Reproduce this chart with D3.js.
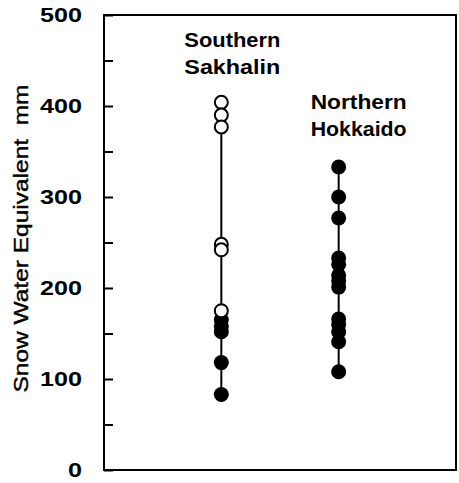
<!DOCTYPE html>
<html>
<head>
<meta charset="utf-8">
<script src="https://cdn.jsdelivr.net/npm/d3@7"></script>
<style>
  body { margin: 0; background: #fff; }
  text { font-family: "Liberation Sans", Arial, sans-serif; }
</style>
</head>
<body>
<div id="chart"></div>
<script>
// sites along the x axis
const sites = ["Southern Sakhalin", "Northern Hokkaido"];
const siteLines = [["Southern", "Sakhalin"], ["Northern", "Hokkaido"]];

// snow water equivalent, mm
const sakhalinOpen = [404, 390, 377, 248, 242, 175];
const sakhalinFilled = [165, 158, 152, 118, 83];
const hokkaidoFilled = [333, 300, 277, 233, 226, 214, 208, 201, 166, 160, 152, 141, 108];

const yTicks = [0, 100, 200, 300, 400, 500];
const yMinor = [50, 150, 250, 350, 450];

const W = 459, H = 483;
const margin = { top: 15, right: 3, bottom: 13, left: 104 };

const svg = d3.select("#chart").append("svg")
  .attr("width", W)
  .attr("height", H);

const x = d3.scalePoint()
  .domain(sites)
  .range([margin.left, W - margin.right])
  .padding(1);

const y = d3.scaleLinear()
  .domain([0, 500])
  .range([H - margin.bottom, margin.top]);

// frame
svg.append("rect")
  .attr("x", margin.left)
  .attr("y", y(500))
  .attr("width", W - margin.right - margin.left)
  .attr("height", y(0) - y(500))
  .attr("fill", "none")
  .attr("stroke", "#000")
  .attr("stroke-width", 2);

// ticks point inward
const yAxis = svg.append("g")
  .attr("transform", `translate(${margin.left},0)`)
  .call(d3.axisRight(y).tickValues(yTicks.concat(yMinor)).tickSize(9).tickFormat(""));
yAxis.select(".domain").remove();
yAxis.selectAll("line").attr("stroke-width", 2);

svg.selectAll(".ylab")
  .data(yTicks)
  .enter()
  .append("text")
  .attr("class", "ylab")
  .attr("x", 82)
  .attr("y", d => y(d) + 7)
  .attr("text-anchor", "end")
  .attr("font-size", "20px")
  .attr("font-weight", "bold")
  .attr("textLength", d => d === 0 ? 14 : 42)
  .attr("lengthAdjust", "spacingAndGlyphs")
  .text(d => d);

svg.append("text")
  .attr("transform", `translate(28,${y(250) - 4}) rotate(-90)`)
  .attr("text-anchor", "middle")
  .attr("font-size", "20px")
  .attr("fill", "#000")
  .attr("stroke", "#000")
  .attr("stroke-width", 0.4)
  .attr("textLength", 308)
  .attr("lengthAdjust", "spacingAndGlyphs")
  .style("white-space", "pre")
  .text("Snow Water Equivalent  mm");

// range lines
const groups = [
  { site: sites[0], vals: sakhalinOpen.concat(sakhalinFilled) },
  { site: sites[1], vals: hokkaidoFilled }
];

svg.selectAll(".range")
  .data(groups)
  .enter()
  .append("line")
  .attr("x1", d => x(d.site))
  .attr("x2", d => x(d.site))
  .attr("y1", d => y(d3.max(d.vals)))
  .attr("y2", d => y(d3.min(d.vals)))
  .attr("stroke", "#000")
  .attr("stroke-width", 2);

// filled dots
const filled = sakhalinFilled.map(v => ({ site: sites[0], v }))
  .concat(hokkaidoFilled.map(v => ({ site: sites[1], v })));

svg.selectAll(".dotf")
  .data(filled)
  .enter()
  .append("circle")
  .attr("cx", d => x(d.site))
  .attr("cy", d => y(d.v))
  .attr("r", 7.5)
  .attr("fill", "#000");

// open dots
svg.selectAll(".doto")
  .data(sakhalinOpen)
  .enter()
  .append("circle")
  .attr("cx", x(sites[0]))
  .attr("cy", d => y(d))
  .attr("r", 6.5)
  .attr("fill", "#fff")
  .attr("stroke", "#000")
  .attr("stroke-width", 2);

// site labels
const labelPos = [
  { dx: 11, y0: 47 },
  { dx: 20, y0: 109 }
];
sites.forEach((s, i) => {
  siteLines[i].forEach((line, j) => {
    svg.append("text")
      .attr("x", x(s) + labelPos[i].dx)
      .attr("y", labelPos[i].y0 + j * 27)
      .attr("text-anchor", "middle")
      .attr("font-size", "20px")
      .attr("font-weight", "bold")
      .attr("textLength", line.length * 12)
      .attr("lengthAdjust", "spacingAndGlyphs")
      .text(line);
  });
});
</script>
</body>
</html>
